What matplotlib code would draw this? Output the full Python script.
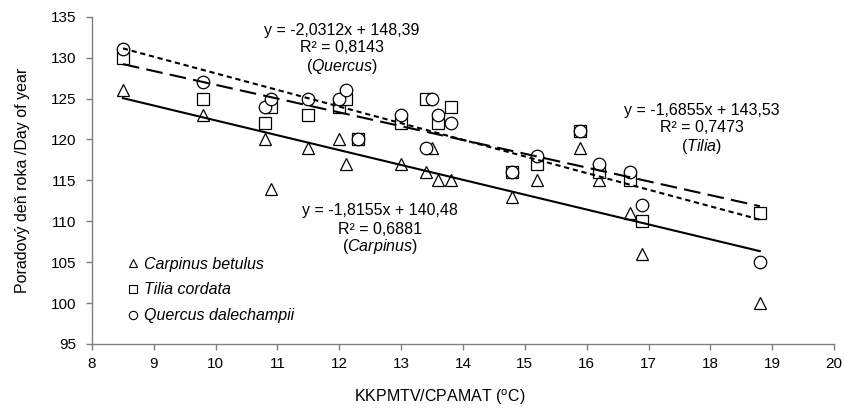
import matplotlib
matplotlib.use("Agg")
import matplotlib.pyplot as plt
from matplotlib.lines import Line2D
import numpy as np

plt.rcParams['font.family'] = ['Liberation Sans', 'DejaVu Sans']
plt.rcParams['mathtext.fontset'] = 'custom'
plt.rcParams['mathtext.rm'] = 'Liberation Sans'
plt.rcParams['mathtext.it'] = 'Liberation Sans:italic'

# Data
carp_x = [8.5, 9.8, 10.8, 10.9, 11.5, 12.0, 12.1, 13.0, 13.4, 13.5, 13.6, 13.8, 14.8, 15.2, 15.9, 16.2, 16.7, 16.9, 18.8]
carp_y = [126, 123, 120, 114, 119, 120, 117, 117, 116, 119, 115, 115, 113, 115, 119, 115, 111, 106, 100]

tilia_x = [8.5, 9.8, 10.8, 10.9, 11.5, 12.0, 12.1, 12.3, 13.0, 13.4, 13.6, 13.8, 14.8, 15.2, 15.9, 16.2, 16.7, 16.9, 18.8]
tilia_y = [130, 125, 122, 124, 123, 124, 125, 120, 122, 125, 122, 124, 116, 117, 121, 116, 115, 110, 111]

quer_x = [8.5, 9.8, 10.8, 10.9, 11.5, 12.0, 12.1, 12.3, 13.0, 13.4, 13.5, 13.6, 13.8, 14.8, 15.2, 15.9, 16.2, 16.7, 16.9, 18.8]
quer_y = [131, 127, 124, 125, 125, 125, 126, 120, 123, 119, 125, 123, 122, 116, 118, 121, 117, 116, 112, 105]

# Regression coefficients (slope, intercept)
carp_fit = (-1.8155, 140.48)
tilia_fit = (-1.6855, 143.53)
quer_fit = (-2.0312, 148.39)

legend_labels = ['Carpinus betulus', 'Tilia cordata', 'Quercus dalechampii']
x_ticks = [8, 9, 10, 11, 12, 13, 14, 15, 16, 17, 18, 19, 20]
y_ticks = [95, 100, 105, 110, 115, 120, 125, 130, 135]

W, H = 845, 412
fig = plt.figure(figsize=(W / 100, H / 100), dpi=100)
ax = fig.add_axes([92 / W, 1 - 344 / H, (834 - 92) / W, (344 - 16.7) / H])

ms = 9
mew = 0.9
ax.plot(carp_x, carp_y, linestyle='none', marker='^', ms=ms, mfc='white', mec='black', mew=mew, zorder=3)
ax.plot(tilia_x, tilia_y, linestyle='none', marker='s', ms=ms - 1, mfc='white', mec='black', mew=mew, zorder=3)
ax.plot(quer_x, quer_y, linestyle='none', marker='o', ms=ms, mfc='white', mec='black', mew=mew, zorder=3)

def fit_line(xs, fit, **kw):
    xx = np.array([min(xs), max(xs)])
    ax.plot(xx, fit[0] * xx + fit[1], color='black', zorder=4, **kw)

fit_line(carp_x, carp_fit, lw=1.5, linestyle='-')
fit_line(tilia_x, tilia_fit, lw=1.5, linestyle=(0, (8, 3.5)))
fit_line(quer_x, quer_fit, lw=1.5, linestyle=(0, (2.5, 1.8)))

ax.set_xlim(8, 20)
ax.set_ylim(95, 135)
ax.set_xticks(x_ticks)
ax.set_yticks(y_ticks)
for s in ['top', 'right']:
    ax.spines[s].set_visible(False)
for s in ['left', 'bottom']:
    ax.spines[s].set_color('#7f7f7f')
    ax.spines[s].set_linewidth(1.0)
ax.tick_params(axis='both', direction='out', length=4, width=1, color='#7f7f7f',
               labelsize=11, labelcolor='black')
ax.tick_params(axis='x', pad=5)
ax.tick_params(axis='y', pad=7)

ax.set_xlabel(r'KKPMTV/CPAMAT ($^{\rm o}$C)', fontsize=11.5)
ax.set_ylabel('Poradový deň roka /Day of year', fontsize=11.5)
ax.xaxis.set_label_coords((440 - 92) / (834 - 92), (344 - 387) / (344 - 16.7))
ax.yaxis.set_label_coords((30 - 92) / (834 - 92), 0.5)

fs = 11.5
def annot(xc, y1, lines):
    for i, t in enumerate(lines):
        ypx = y1 + i * 18
        fig.text(xc / W, 1 - ypx / H, t, ha='center', va='center', fontsize=fs)

annot(342, 30, ['y = -2,0312x + 148,39', 'R² = 0,8143', r'($\it{Quercus}$)'])
annot(702, 110, ['y = -1,6855x + 143,53', 'R² = 0,7473', r'($\it{Tilia}$)'])
annot(380, 211, ['y = -1,8155x + 140,48', 'R² = 0,6881', r'($\it{Carpinus}$)'])

handles = [
    Line2D([], [], linestyle='none', marker='^', ms=6, mfc='white', mec='black', mew=0.8),
    Line2D([], [], linestyle='none', marker='s', ms=5.5, mfc='white', mec='black', mew=0.8),
    Line2D([], [], linestyle='none', marker='o', ms=6, mfc='white', mec='black', mew=0.8),
]
leg = ax.legend(handles, legend_labels, loc='center left',
                bbox_to_anchor=(127 / W, 1 - 290 / H), bbox_transform=fig.transFigure,
                frameon=False, handlelength=0.8, handletextpad=0.25, labelspacing=0.68,
                borderpad=0, borderaxespad=0,
                prop={'style': 'italic', 'size': 11.5})

fig.savefig('out.png', dpi=100)
